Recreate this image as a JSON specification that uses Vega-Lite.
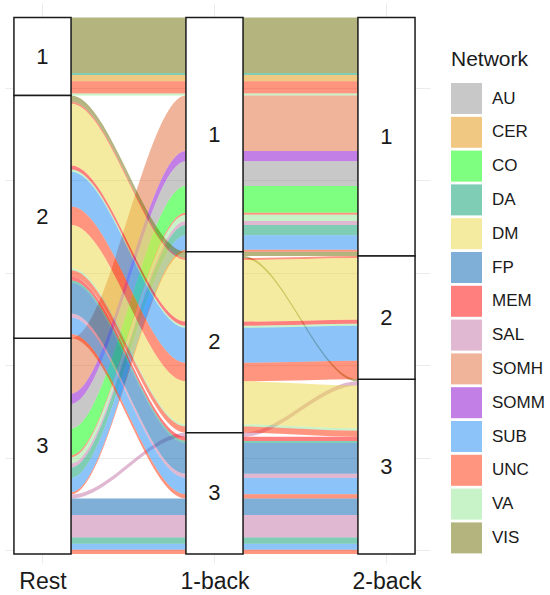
{
  "$schema": "https://vega.github.io/schema/vega-lite/v6.json",
  "width": 425,
  "height": 560,
  "padding": {"left": 5, "top": 3, "right": 0, "bottom": 0},
  "background": "white",
  "config": {"view": {"stroke": null}, "font": "Liberation Sans"},
  "data": {
    "values": [
      {"id": 1, "Network": "VIS", "Rest": 1, "OneBack": 1, "TwoBack": 1, "n": 27},
      {"id": 2, "Network": "DA", "Rest": 1, "OneBack": 1, "TwoBack": 1, "n": 1},
      {"id": 3, "Network": "CER", "Rest": 1, "OneBack": 1, "TwoBack": 1, "n": 3},
      {"id": 4, "Network": "UNC", "Rest": 1, "OneBack": 1, "TwoBack": 1, "n": 6},
      {"id": 5, "Network": "VA", "Rest": 1, "OneBack": 1, "TwoBack": 1, "n": 1},
      {"id": 6, "Network": "SOMH", "Rest": 3, "OneBack": 1, "TwoBack": 1, "n": 27},
      {"id": 7, "Network": "SOMM", "Rest": 3, "OneBack": 1, "TwoBack": 1, "n": 5},
      {"id": 8, "Network": "AU", "Rest": 3, "OneBack": 1, "TwoBack": 1, "n": 12},
      {"id": 9, "Network": "CO", "Rest": 3, "OneBack": 1, "TwoBack": 1, "n": 13},
      {"id": 10, "Network": "UNC", "Rest": 3, "OneBack": 1, "TwoBack": 1, "n": 1},
      {"id": 11, "Network": "VA", "Rest": 3, "OneBack": 1, "TwoBack": 1, "n": 3},
      {"id": 12, "Network": "SAL", "Rest": 3, "OneBack": 1, "TwoBack": 1, "n": 2},
      {"id": 13, "Network": "DA", "Rest": 3, "OneBack": 1, "TwoBack": 1, "n": 5},
      {"id": 14, "Network": "SUB", "Rest": 3, "OneBack": 1, "TwoBack": 1, "n": 7},
      {"id": 15, "Network": "UNC", "Rest": 3, "OneBack": 1, "TwoBack": 1, "n": 1},
      {"id": 16, "Network": "VIS", "Rest": 2, "OneBack": 2, "TwoBack": 1, "n": 2},
      {"id": 17, "Network": "VIS", "Rest": 2, "OneBack": 2, "TwoBack": 3, "n": 1},
      {"id": 18, "Network": "UNC", "Rest": 2, "OneBack": 2, "TwoBack": 2, "n": 1},
      {"id": 19, "Network": "DM", "Rest": 2, "OneBack": 2, "TwoBack": 2, "n": 30},
      {"id": 20, "Network": "MEM", "Rest": 2, "OneBack": 2, "TwoBack": 2, "n": 2},
      {"id": 21, "Network": "VA", "Rest": 2, "OneBack": 2, "TwoBack": 2, "n": 1},
      {"id": 22, "Network": "SUB", "Rest": 2, "OneBack": 2, "TwoBack": 2, "n": 17},
      {"id": 23, "Network": "UNC", "Rest": 2, "OneBack": 2, "TwoBack": 2, "n": 9},
      {"id": 24, "Network": "SAL", "Rest": 3, "OneBack": 3, "TwoBack": 3, "n": 2},
      {"id": 25, "Network": "DM", "Rest": 2, "OneBack": 2, "TwoBack": 3, "n": 21},
      {"id": 26, "Network": "VA", "Rest": 2, "OneBack": 2, "TwoBack": 3, "n": 1},
      {"id": 27, "Network": "UNC", "Rest": 2, "OneBack": 2, "TwoBack": 3, "n": 3},
      {"id": 28, "Network": "MEM", "Rest": 2, "OneBack": 3, "TwoBack": 3, "n": 2},
      {"id": 29, "Network": "DA", "Rest": 2, "OneBack": 3, "TwoBack": 3, "n": 1},
      {"id": 30, "Network": "FP", "Rest": 2, "OneBack": 3, "TwoBack": 3, "n": 15},
      {"id": 31, "Network": "SAL", "Rest": 2, "OneBack": 3, "TwoBack": 3, "n": 2},
      {"id": 32, "Network": "SUB", "Rest": 2, "OneBack": 3, "TwoBack": 3, "n": 8},
      {"id": 33, "Network": "UNC", "Rest": 2, "OneBack": 3, "TwoBack": 3, "n": 2},
      {"id": 34, "Network": "FP", "Rest": 3, "OneBack": 3, "TwoBack": 3, "n": 8},
      {"id": 35, "Network": "SAL", "Rest": 3, "OneBack": 3, "TwoBack": 3, "n": 11},
      {"id": 36, "Network": "DA", "Rest": 3, "OneBack": 3, "TwoBack": 3, "n": 3},
      {"id": 37, "Network": "SUB", "Rest": 3, "OneBack": 3, "TwoBack": 3, "n": 3},
      {"id": 38, "Network": "UNC", "Rest": 3, "OneBack": 3, "TwoBack": 3, "n": 2}
    ]
  },
  "layer": [
    {
      "transform": [
        {"fold": ["Rest", "OneBack", "TwoBack"], "as": ["axis", "stratum"]},
        {"stack": "n", "groupby": ["axis"], "sort": [{"field": "stratum", "order": "ascending"}, {"field": "id", "order": "ascending"}], "as": ["y0", "y1"]},
        {"calculate": "datum.axis === 'Rest' ? 1 : (datum.axis === 'OneBack' ? 2 : 3)", "as": "ax"},
        {"calculate": "datum.ax - 0.166", "as": "xl"},
        {"calculate": "datum.ax + 0.166", "as": "xr"},
        {"fold": ["xl", "xr"], "as": ["edge", "xpos"]}
      ],
      "mark": {"type": "area", "interpolate": "monotone", "opacity": 0.5},
      "encoding": {
        "x": {
          "field": "xpos", "type": "quantitative", "title": null,
          "scale": {"domain": [0.782, 3.253], "nice": false, "zero": false},
          "axis": {
            "values": [1, 2, 3],
            "labelExpr": "datum.value == 1 ? 'Rest' : (datum.value == 2 ? '1-back' : '2-back')",
            "grid": true, "gridColor": "#ebebeb", "domain": false, "ticks": false,
            "labelFontSize": 23, "labelColor": "#1a1a1a", "labelPadding": 7, "labelFont": "Liberation Sans"
          }
        },
        "y": {
          "field": "y0", "type": "quantitative", "title": null,
          "scale": {"domain": [-7.05, 265.4], "reverse": true, "nice": false, "zero": false},
          "axis": {
            "values": [34.3, 79.3, 124.3, 169.3, 214.3, 259.3],
            "grid": true, "gridColor": "#ebebeb", "labels": false, "ticks": false, "domain": false
          }
        },
        "y2": {"field": "y1"},
        "color": {
          "field": "Network", "type": "nominal",
          "scale": {
            "domain": ["AU", "CER", "CO", "DA", "DM", "FP", "MEM", "SAL", "SOMH", "SOMM", "SUB", "UNC", "VA", "VIS"],
            "range": ["#919191", "#e19105", "#00ff00", "#009b69", "#ebd741", "#005dad", "#ff0000", "#c171a5", "#e16935", "#8500cd", "#1989f5", "#ff2900", "#91e591", "#696900"]
          },
          "legend": {
            "title": "Network", "orient": "none", "legendX": 446, "legendY": 46,
            "titleFontSize": 21, "titleFontWeight": "normal", "titleColor": "#1a1a1a", "titlePadding": 13,
            "labelFontSize": 17, "labelColor": "#1a1a1a", "labelOffset": 10,
            "symbolType": "square", "symbolSize": 961, "symbolOpacity": 0.5, "symbolStrokeWidth": 0,
            "rowPadding": 2.8
          }
        },
        "detail": {"field": "id"}
      }
    },
    {
      "transform": [
        {"fold": ["Rest", "OneBack", "TwoBack"], "as": ["axis", "stratum"]},
        {"aggregate": [{"op": "sum", "field": "n", "as": "tot"}], "groupby": ["axis", "stratum"]},
        {"stack": "tot", "groupby": ["axis"], "sort": [{"field": "stratum", "order": "ascending"}], "as": ["y0", "y1"]},
        {"calculate": "datum.axis === 'Rest' ? 1 : (datum.axis === 'OneBack' ? 2 : 3)", "as": "ax"},
        {"calculate": "datum.ax - 0.166", "as": "xl"},
        {"calculate": "datum.ax + 0.166", "as": "xr"},
        {"calculate": "(datum.y0 + datum.y1) / 2", "as": "ym"}
      ],
      "layer": [
        {
          "mark": {"type": "rect", "fill": "white", "stroke": "#1a1a1a", "strokeWidth": 1.5},
          "encoding": {
            "x": {"field": "xl", "type": "quantitative", "title": null},
            "x2": {"field": "xr"},
            "y": {"field": "y0", "type": "quantitative", "title": null},
            "y2": {"field": "y1"}
          }
        },
        {
          "mark": {"type": "text", "fontSize": 22, "color": "#1a1a1a", "font": "Liberation Sans"},
          "encoding": {
            "x": {"field": "ax", "type": "quantitative", "title": null},
            "y": {"field": "ym", "type": "quantitative", "title": null},
            "text": {"field": "stratum", "type": "nominal"}
          }
        }
      ]
    }
  ]
}
